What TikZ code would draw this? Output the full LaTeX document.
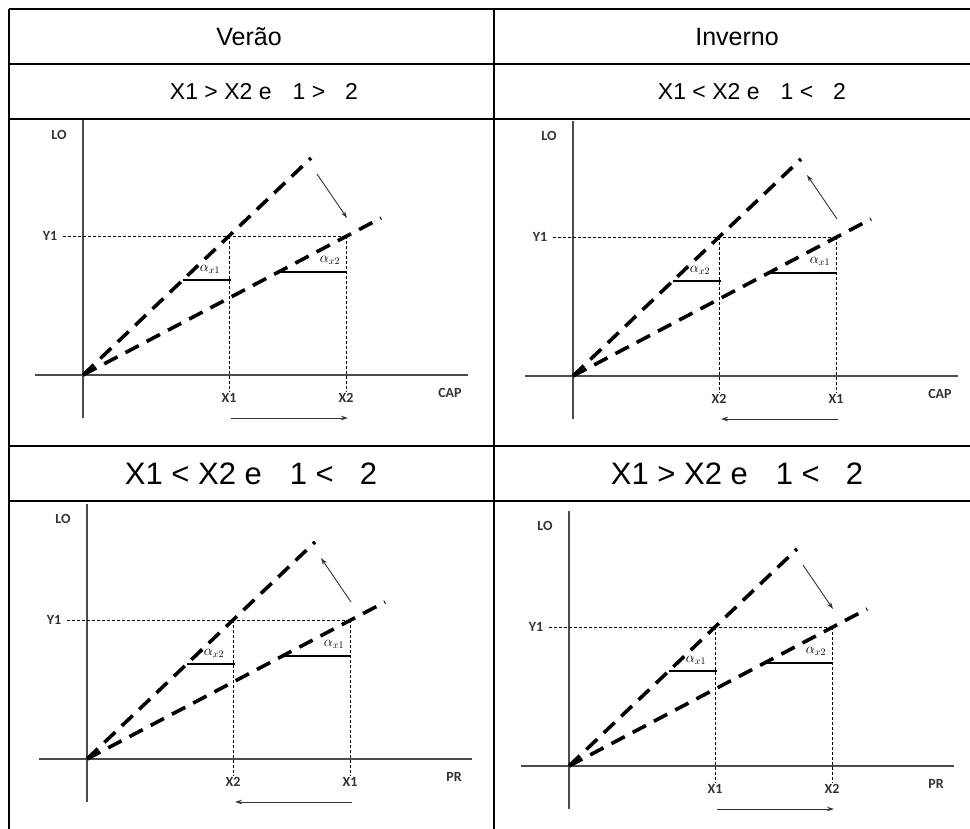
\documentclass[tikz,border=0pt]{standalone}
\usepackage{fontspec}
\setmainfont{Liberation Sans}
\newfontfamily\lblfont{Carlito}
\usetikzlibrary{arrows.meta}

\tikzset{
  grid/.style={line width=1.3pt},
  axis/.style={line width=1.1pt,black!70},
  ray/.style={line width=3.6pt,dash pattern=on 15pt off 9pt},
  guide/.style={line width=0.9pt,dash pattern=on 3pt off 2pt},
  slope/.style={line width=1.4pt},
  turn/.style={line width=0.9pt,black!80,>={Stealth[length=7pt,width=4.5pt]}},
  lbl/.style={font=\lblfont\bfseries\fontsize{14}{14}\selectfont,text=black!80,inner sep=1pt},
  alf/.style={font=\fontsize{14}{14}\selectfont,inner sep=1pt},
  head/.style={font=\fontsize{25}{28}\selectfont},
  cond/.style={font=\fontsize{23}{26}\selectfont},
  bigcond/.style={font=\fontsize{31}{34}\selectfont},
}

% one LO graph: prefix, origin, left x, right x, left alpha, right alpha, axis, turn arrow, shift arrow
\newcommand{\lograph}[9]{%
  \begin{scope}[shift={#2}]
    \coordinate (#1o) at (0,0);
    % axes
    \draw[axis] (0,-255) -- (0,43);
    \draw[axis] (-48,0) -- (385,0);
    \node[lbl] (#1lo) at (-24,-240) {LO};
    \node[lbl] (#1y) at (-33,-139) {Y1};
    \node[lbl] (#1xa) at (146,23) {#3};
    \node[lbl] (#1xb) at (263,23) {#4};
    \node[lbl] (#1ax) at (367,18) {#7};
    % guides at Y1
    \coordinate (#1pa) at (146,-139);
    \coordinate (#1pb) at (263,-139);
    \draw[guide] (#1y.east) ++(5,0) -- (#1pb);
    \draw[guide] (#1pa) -- (#1xa.north);
    \draw[guide] (#1pb) -- (#1xb.north);
    % the two rays
    \coordinate (#1sa) at (228,-217);
    \coordinate (#1sb) at (298,-157);
    \draw[ray] (#1o) -- (#1sa);
    \draw[ray] (#1o) -- (#1sb);
    % slope marks
    \draw[slope] (100,-95) -- (148,-95);
    \node[alf] (#1aa) at (127,-106) {$\alpha_{x#5}$};
    \draw[slope,line width=1.1pt] (197,-103) -- (263,-103);
    \node[alf] (#1ab) at (247,-115) {$\alpha_{x#6}$};
    % arrows
    \coordinate (#1ra) at (234,-201);
    \coordinate (#1rb) at (264,-157);
    \draw[turn,#8] (#1ra) -- (#1rb);
    \coordinate (#1ba) at (148,43);
    \coordinate (#1bb) at (265,43);
    \draw[turn,#9] (#1ba) -- (#1bb);
  \end{scope}}

\begin{document}
\begin{tikzpicture}[x=1pt,y=-1pt]
  \useasboundingbox (0,0) rectangle (970,829);
  % table
  \draw[grid] (9,9) -- (970,9);
  \draw[grid] (9,64) -- (970,64);
  \draw[grid] (9,119) -- (970,119);
  \draw[grid] (9,446) -- (970,446);
  \draw[grid] (9,501) -- (970,501);
  \draw[grid] (9,9) -- (9,829);
  \draw[grid] (494,9) -- (494,829);
  \node[head] (verao) at (249,37) {Verão};
  \node[head] (inverno) at (737,37) {Inverno};
  \node[cond] (conda) at (264,92) {X1 > X2 e\hspace{21pt}1 >\hspace{20pt}2};
  \node[cond] (condb) at (752,92) {X1 < X2 e\hspace{21pt}1 <\hspace{20pt}2};
  \node[bigcond] (condc) at (251,474) {X1 < X2 e\hspace{28pt}1 <\hspace{26pt}2};
  \node[bigcond] (condd) at (737,474) {X1 > X2 e\hspace{28pt}1 <\hspace{26pt}2};
  % graphs
  \lograph{a}{(83,375)}{X1}{X2}{1}{2}{CAP}{->}{->}
  \lograph{b}{(573,376)}{X2}{X1}{2}{1}{CAP}{<-}{<-}
  \lograph{c}{(87,759)}{X2}{X1}{2}{1}{PR}{<-}{<-}
  \lograph{d}{(569,766)}{X1}{X2}{1}{2}{PR}{->}{->}
\end{tikzpicture}
\end{document}
